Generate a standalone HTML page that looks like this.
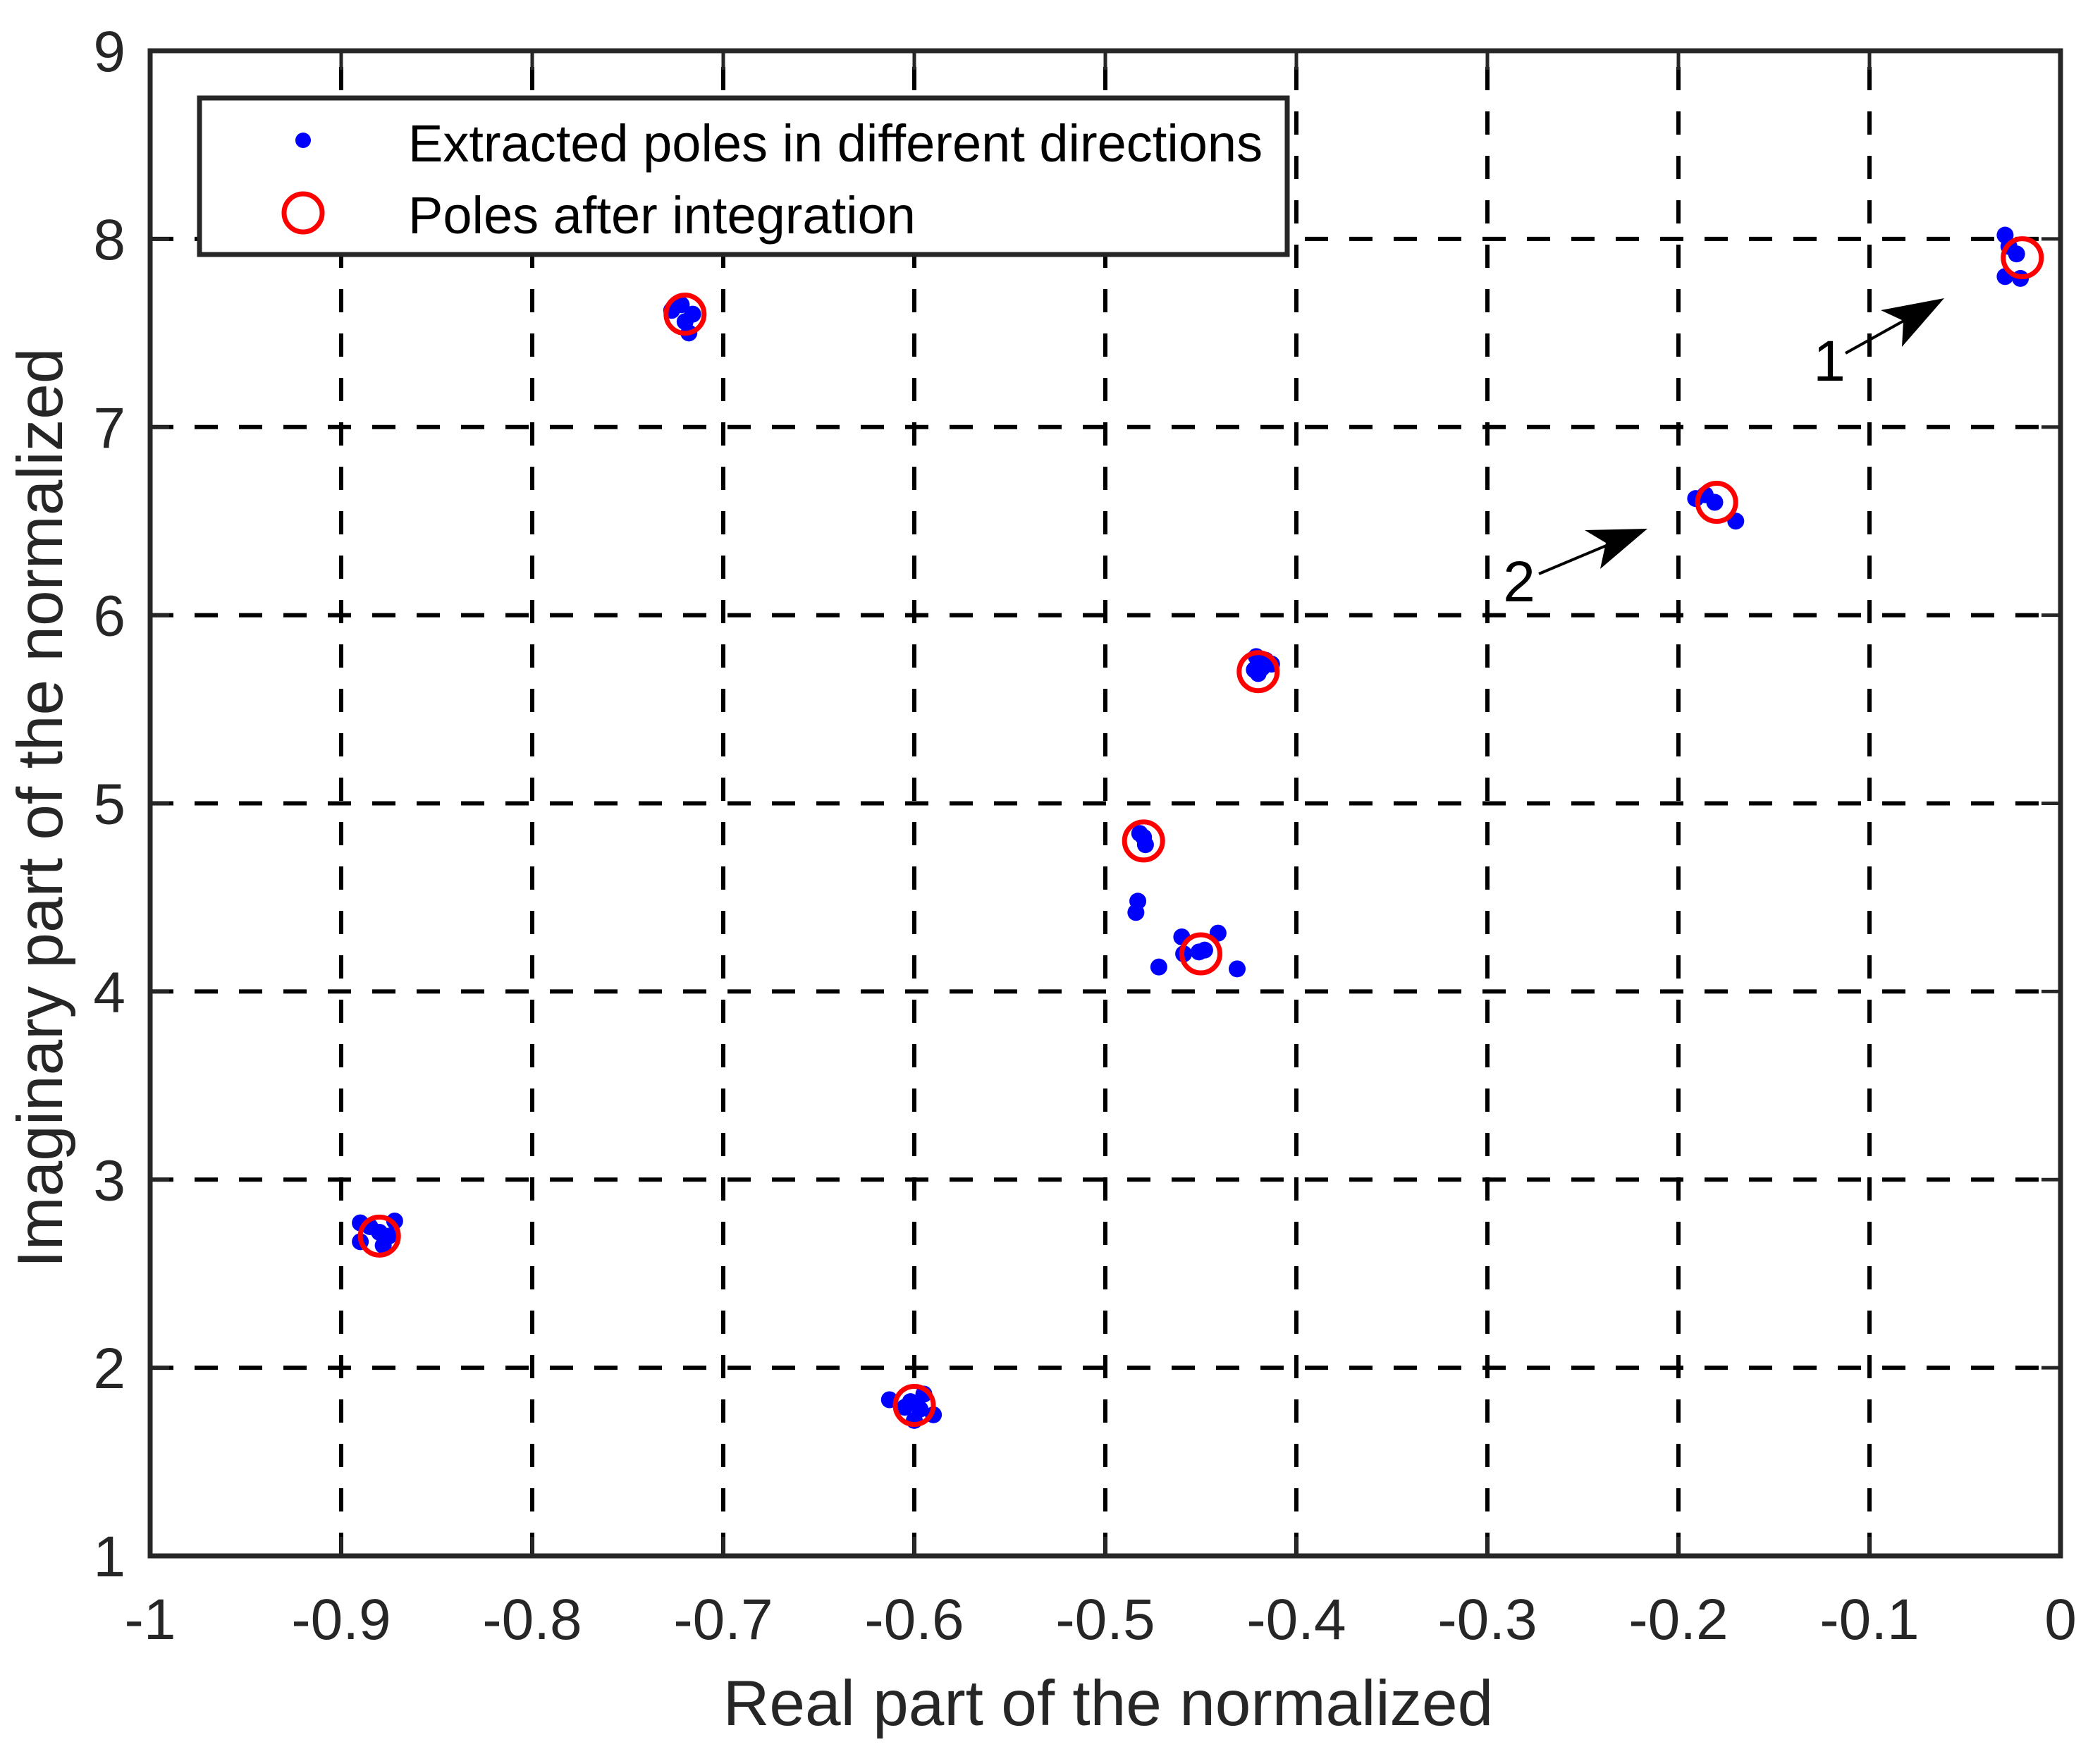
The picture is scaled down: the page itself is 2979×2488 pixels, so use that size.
<!DOCTYPE html>
<html><head><meta charset="utf-8"><style>
html,body{margin:0;padding:0;background:#fff;}
svg{display:block;font-family:"Liberation Sans",Arial,sans-serif;}
</style></head><body>
<svg id="chart" width="2979" height="2488" viewBox="0 0 2979 2488" xmlns="http://www.w3.org/2000/svg">
<rect width="2979" height="2488" fill="#fff"/>
<g id="grid"></g>
<g id="marks"></g>
<rect x="213" y="72" width="2710" height="2135" fill="none" stroke="#262626" stroke-width="7"/>
<g id="ticks"></g>
<text x="1572" y="2447" font-size="91" text-anchor="middle" fill="#262626">Real part of the normalized</text>
<text transform="translate(88,1146) rotate(-90)" font-size="91" text-anchor="middle" fill="#262626">Imaginary part of the normalized</text>
<g>
<text x="2595" y="540" font-size="82" text-anchor="middle" fill="#000">1</text>
<line x1="2618" y1="501" x2="2715" y2="447" stroke="#000" stroke-width="4"/>
<polygon points="2758,423 2668,440 2700,455 2698,492" fill="#000"/>
</g>
<g>
<text x="2155" y="853" font-size="82" text-anchor="middle" fill="#000">2</text>
<line x1="2183" y1="814" x2="2295" y2="767" stroke="#000" stroke-width="4"/>
<polygon points="2337,750 2248,752 2278,770 2270,807" fill="#000"/>
</g>
<g>
<rect x="283" y="139" width="1543" height="222" fill="#fff" stroke="#262626" stroke-width="7"/>
<circle cx="430" cy="199" r="11" fill="#0000ff"/>
<text x="579" y="229" font-size="74" fill="#000">Extracted poles in different directions</text>
<circle cx="430" cy="302" r="27" fill="none" stroke="#ff0000" stroke-width="7"/>
<text x="579" y="331" font-size="74" fill="#000">Poles after integration</text>
</g>
</svg>
<script>
const xTicks = [-1,-0.9,-0.8,-0.7,-0.6,-0.5,-0.4,-0.3,-0.2,-0.1,0];
const xTickLabels = ["-1","-0.9","-0.8","-0.7","-0.6","-0.5","-0.4","-0.3","-0.2","-0.1","0"];
const yTicks = [1,2,3,4,5,6,7,8,9];
const yTickLabels = ["1","2","3","4","5","6","7","8","9"];
const extractedRe = [-0.89,-0.885,-0.89,-0.88,-0.878,-0.872,-0.875,
 -0.613,-0.605,-0.60,-0.595,-0.59,-0.602,-0.597,
 -0.727,-0.722,-0.72,-0.718,-0.716,
 -0.482,-0.479,-0.48,-0.483,-0.484,
 -0.46,-0.441,-0.472,-0.431,-0.451,-0.448,-0.459,
 -0.421,-0.418,-0.413,-0.42,-0.422,-0.416,
 -0.191,-0.181,-0.170,-0.186,
 -0.029,-0.029,-0.021,-0.023,-0.027];
const extractedIm = [2.77,2.75,2.67,2.72,2.65,2.78,2.70,
 1.83,1.79,1.72,1.86,1.75,1.82,1.78,
 7.62,7.65,7.56,7.50,7.60,
 4.84,4.78,4.82,4.48,4.42,
 4.29,4.31,4.13,4.12,4.21,4.22,4.20,
 5.78,5.72,5.74,5.69,5.71,5.76,
 6.62,6.60,6.50,6.64,
 8.02,7.80,7.79,7.92,7.96];
const integratedRe = [-0.88,-0.6,-0.72,-0.48,-0.45,-0.42,-0.18,-0.02];
const integratedIm = [2.7,1.8,7.6,4.8,4.2,5.7,6.6,7.9];

const L=213,R=2923,T=72,B=2207, X0=-1,X1=0,Y0=1,Y1=9;
const NS="http://www.w3.org/2000/svg";
function sx(v){return L+(v-X0)/(X1-X0)*(R-L);}
function sy(v){return B-(v-Y0)/(Y1-Y0)*(B-T);}
function mk(tag,attrs,parent){const e=document.createElementNS(NS,tag);for(const k in attrs)e.setAttribute(k,attrs[k]);parent.appendChild(e);return e;}
const grid=document.getElementById('grid'),ticks=document.getElementById('ticks'),marks=document.getElementById('marks');
xTicks.forEach((v,i)=>{
  const x=sx(v);
  if(i>0&&i<xTicks.length-1){
    const g=mk('line',{x1:x,y1:B,x2:x,y2:T,stroke:'#000','stroke-width':6,'stroke-dasharray':'33 30'},grid);
    
    
  }
  mk('line',{x1:x,y1:B,x2:x,y2:B-27,stroke:'#262626','stroke-width':5},ticks);
  mk('line',{x1:x,y1:T,x2:x,y2:T+27,stroke:'#262626','stroke-width':5},ticks);
  const t=mk('text',{x:x,y:2325,'font-size':82,'text-anchor':'middle',fill:'#262626'},ticks);
  t.textContent=xTickLabels[i];
  
  
});
yTicks.forEach((v,i)=>{
  const y=sy(v);
  if(i>0&&i<yTicks.length-1){
    const g=mk('line',{x1:L,y1:y,x2:R,y2:y,stroke:'#000','stroke-width':6,'stroke-dasharray':'33 30'},grid);
    
    
  }
  mk('line',{x1:L,y1:y,x2:L+27,y2:y,stroke:'#262626','stroke-width':5},ticks);
  mk('line',{x1:R,y1:y,x2:R-27,y2:y,stroke:'#262626','stroke-width':5},ticks);
  const t=mk('text',{x:178,y:y+29,'font-size':82,'text-anchor':'end',fill:'#262626'},ticks);
  t.textContent=yTickLabels[i];
  
  
});
extractedRe.forEach((v,i)=>{
  const c=mk('circle',{cx:sx(v),cy:sy(extractedIm[i]),r:12,fill:'#0000ff'},marks);
  
  
});
integratedRe.forEach((v,i)=>{
  const c=mk('circle',{cx:sx(v),cy:sy(integratedIm[i]),r:27,fill:'none',stroke:'#ff0000','stroke-width':7},marks);
  
  
});
</script>
</body></html>
